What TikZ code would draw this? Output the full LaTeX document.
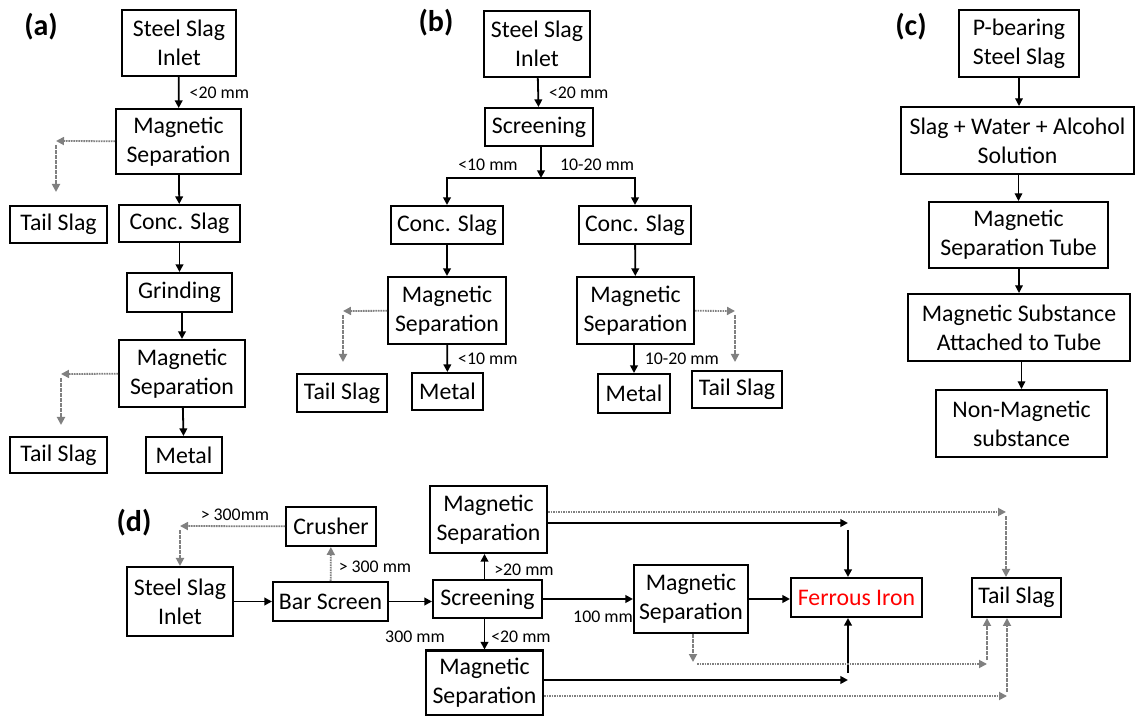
\documentclass[tikz,border=0pt]{standalone}
\usepackage{fontspec}
\setmainfont{Carlito}
\usetikzlibrary{calc,positioning,arrows.meta}

\tikzset{
	blk/.style={draw,line width=1pt,align=center,inner sep=0pt,
		font=\fontsize{11.9}{14.5}\selectfont},
	dims/.style 2 args={minimum width=#1*0.5pt,minimum height=#2*0.5pt},
	arr/.style={-{Triangle[length=3.8pt,width=3.8pt]},line width=0.9pt},
	darr/.style={-{Triangle[length=4pt,width=4pt]},draw=gray,
		dash pattern=on 0.8pt off 0.45pt,line width=0.9pt},
	lbl/.style={inner sep=0pt,font=\fontsize{8.9}{10}\selectfont},
	tag/.style={inner sep=0pt,font=\fontsize{15}{18}\selectfont\bfseries},
}

\begin{document}
\begin{tikzpicture}[x=0.5pt,y=-0.5pt]
	\useasboundingbox (0,0) rectangle (1136,716);

	% (a)
	\node [tag] (ta) at (41,27) {(a)};
	\node [blk,dims={114}{66}] (a1) at (179,43) {Steel Slag\\Inlet};
	\node [blk,dims={125}{65}] (a2) at (178.5,141.5) {Magnetic\\Separation};
	\node [blk,dims={97}{37}] (a3) at (58.5,224.5) {Tail Slag};
	\node [blk,dims={121}{37}] (a4) at (179.5,223.5) {Conc. Slag};
	\node [blk,dims={105}{39}] (a5) at (179.5,292.5) {Grinding};
	\node [blk,dims={126}{67}] (a6) at (182,373.5) {Magnetic\\Separation};
	\node [blk,dims={97}{36}] (a7) at (58.5,455) {Tail Slag};
	\node [blk,dims={76}{36}] (a8) at (184,455) {Metal};
	\coordinate (ac1) at (56,141);
	\coordinate (ac2) at (56,192);
	\coordinate (ac3) at (61,374);
	\coordinate (ac4) at (61,425);
	\draw[arr] (a1) -- node[lbl,right=5pt] (la1) {<20 mm} (a2);
	\draw[arr] (a2) -- (a4);
	\draw[arr] (a4) -- (a5);
	\draw[arr] (a5.south -| a6) -- (a6);
	\draw[arr] (a6) -- (a8);
	\draw[darr] (a2) -- (ac1);
	\draw[darr,shorten <=2pt] (ac1) -- (ac2);
	\draw[darr] (a6) -- (ac3);
	\draw[darr,shorten <=2pt] (ac3) -- (ac4);

	% (b)
	\node [tag] (tb) at (436,23) {(b)};
	\node [blk,dims={106}{66}] (b1) at (537,44) {Steel Slag\\Inlet};
	\node [blk,dims={108}{38}] (b2) at (539,127) {Screening};
	\node [blk,dims={112}{38}] (b3) at (447,225) {Conc. Slag};
	\node [blk,dims={112}{38}] (b4) at (635,225) {Conc. Slag};
	\node [blk,dims={118}{67}] (b5) at (447,310.5) {Magnetic\\Separation};
	\node [blk,dims={117}{67}] (b6) at (635.5,310.5) {Magnetic\\Separation};
	\node [blk,dims={90}{38}] (b7) at (342,393) {Tail Slag};
	\node [blk,dims={71}{37}] (b8) at (447.5,391.5) {Metal};
	\node [blk,dims={72}{39}] (b9) at (634,393.5) {Metal};
	\node [blk,dims={90}{37}] (b10) at (737,389.5) {Tail Slag};
	\coordinate (bj) at (541,178);
	\coordinate (bc1) at (343,311);
	\coordinate (bc2) at (343,362);
	\coordinate (bc3) at (735,311);
	\coordinate (bc4) at (735,362);
	\node [lbl] (lb2) at (488,165) {<10 mm};
	\node [lbl] (lb3) at (597,165) {10-20 mm};
	\draw[arr] (b1) -- node[lbl,right=5pt] (lb1) {<20 mm} (b2);
	\draw[arr] (b2.south -| bj) -- (bj);
	\draw[arr] (bj) -| (b3);
	\draw[arr] (bj) -| (b4);
	\draw[arr] (b3) -- (b5);
	\draw[arr] (b4) -- (b6);
	\draw[arr] (b5) -- node[lbl,right=5pt] (lb4) {<10 mm} (b8);
	\draw[arr] (b6.south -| b9) -- node[lbl,right=5pt] (lb5) {10-20 mm} (b9);
	\draw[darr] (b5) -- (bc1);
	\draw[darr,shorten <=2pt] (bc1) -- (bc2);
	\draw[darr] (b6) -- (bc3);
	\draw[darr,shorten <=2pt] (bc3) -- (bc4);

	% (c)
	\node [tag] (tc) at (911,27) {(c)};
	\node [blk,dims={120}{67}] (c1) at (1019,43.5) {P-bearing\\Steel Slag};
	\node [blk,dims={233}{67}] (c2) at (1017.5,140.5) {Slag + Water + Alcohol\\Solution};
	\node [blk,dims={179}{66}] (c3) at (1018.5,235) {Magnetic\\Separation Tube};
	\node [blk,dims={222}{67}] (c4) at (1019,327.5) {Magnetic Substance\\Attached to Tube};
	\node [blk,dims={171}{67}] (c5) at (1021.5,423.5) {Non-Magnetic\\substance};
	\draw[arr,line width=0.6pt] (c1) -- (c1 |- c2.north);
	\draw[arr,line width=0.6pt] (c2.south -| c3) -- (c3);
	\draw[arr,line width=0.6pt] (c3.south -| c4) -- (c4.north);
	\draw[arr,line width=0.6pt] (c4.south -| c5) -- (c5);

	% (d)
	\node [tag] (td) at (134,523) {(d)};
	\node [blk,dims={106}{69}] (d1) at (180,601.5) {Steel Slag\\Inlet};
	\node [blk,dims={90}{39}] (d2) at (331,526.5) {Crusher};
	\node [blk,dims={115}{39}] (d3) at (330.5,601.5) {Bar Screen};
	\node [blk,dims={109}{38}] (d4) at (487.5,599) {Screening};
	\node [blk,dims={117}{67}] (d5) at (488.5,519.5) {Magnetic\\Separation};
	\node [blk,dims={117}{64}] (d6) at (484.5,682.5) {Magnetic\\Separation};
	\node [blk,dims={114}{68}] (d7) at (691,599) {Magnetic\\Separation};
	\node [blk,dims={131}{39},text=red] (d8) at (856.5,597.5) {Ferrous Iron};
	\node [blk,dims={89}{39}] (d9) at (1016.5,597.5) {Tail Slag};
	\node [lbl] (ld1) at (235,515) {> 300mm};
	\node [lbl] (ld2) at (375,567) {> 300 mm};
	\node [lbl] (ld3) at (415,637) {300 mm};
	\node [lbl] (ld4) at (524,570) {>20 mm};
	\node [lbl] (ld5) at (521,637) {<20 mm};
	\node [lbl] (ld6) at (603,617) {100 mm};
	\coordinate (dc1) at (180,526);
	\coordinate (f1) at (848,523);
	\coordinate (f2) at (848,530);
	\coordinate (f3) at (848,680);
	\coordinate (f4) at (848,673);
	\coordinate (t1) at (1006,512);
	\coordinate (t2a) at (693,662);
	\coordinate (t2b) at (987,664);
	\coordinate (t3) at (1007,696);
	\draw[arr] (d1) -- (d3);
	\draw[arr] (d3) -- (d3 -| d4.west);
	\draw[darr] (d3) -- (d2);
	\draw[darr] (d2) -- (dc1);
	\draw[darr,shorten <=2pt] (dc1) -- (dc1 |- d1.north);
	\draw[arr] (d4.north -| d6) -- (d5.south -| d6);
	\draw[arr] (d4.south -| d6) -- (d6);
	\draw[arr,line width=1pt] (d4) -- (d4 -| d7.west);
	\draw[arr,line width=1pt] (d7) -- (d7 -| d8.west);
	\draw[arr,line width=1pt] (d5.east |- f1) -- (f1);
	\draw[arr,line width=1pt] (f2) -- (f2 |- d8.north);
	\draw[arr,line width=1pt] (d6.east |- f3) -- (f3);
	\draw[arr,line width=1pt] (f4) -- (f4 |- d8.south);
	\draw[darr] (d5.east |- t1) -- (t1);
	\draw[darr,shorten <=2pt] (t1) -- (t1 |- d9.north);
	\draw[darr] (d6.east |- t3) -- (t3);
	\draw[darr,shorten <=2pt] (t3) -- (t3 |- d9.south);
	\draw[darr] (d7.south -| t2a) -- (t2a);
	\draw[darr,shorten <=2pt] (t2a |- t2b) -- (t2b);
	\draw[darr,shorten <=2pt] (t2b) -- (t2b |- d9.south);
\end{tikzpicture}
\end{document}
